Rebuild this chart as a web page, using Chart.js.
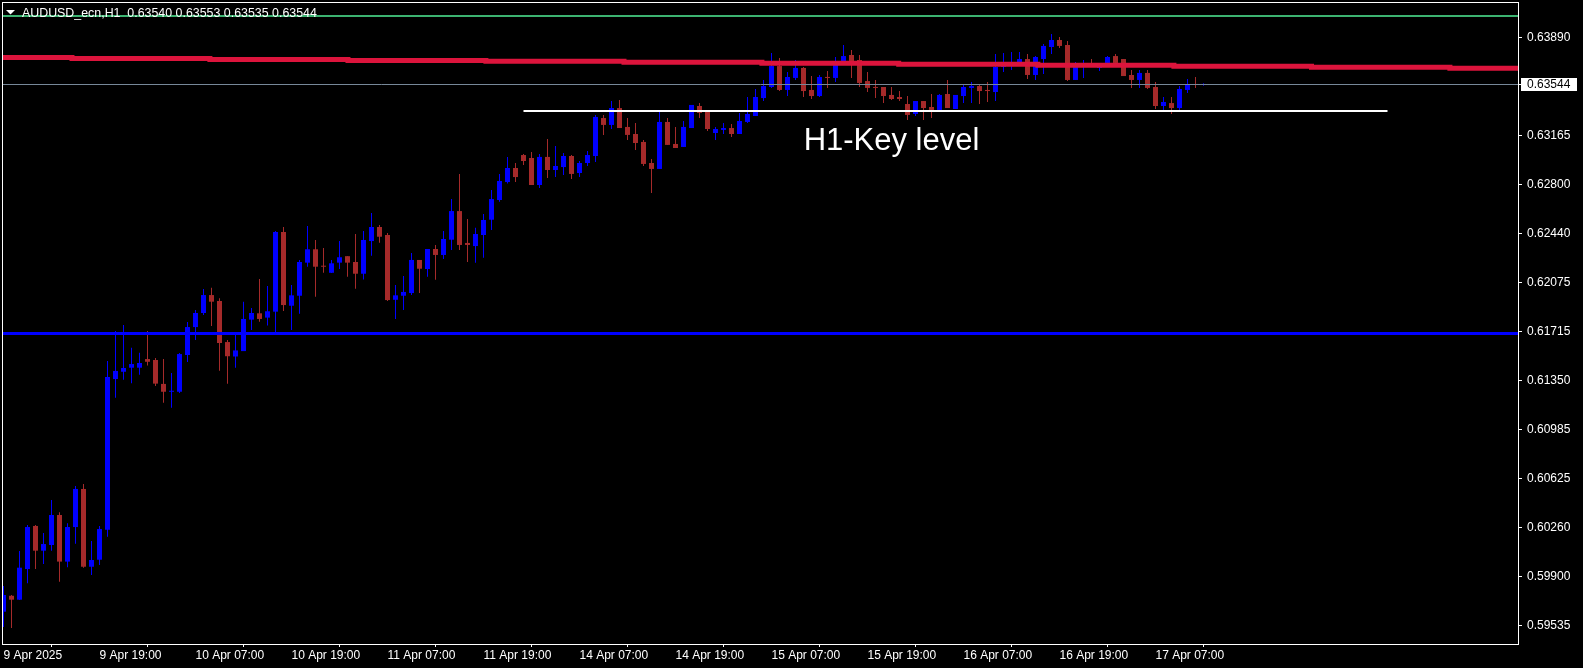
<!DOCTYPE html>
<html>
<head>
<meta charset="utf-8">
<script src="https://cdn.jsdelivr.net/npm/chart.js@4.4.1/dist/chart.umd.min.js"></script>
<style>
  html, body { margin: 0; padding: 0; background: #000; overflow: hidden; }
  #wrap { width: 1583px; height: 668px; }
</style>
</head>
<body>
<div id="wrap"><canvas id="chart" width="1583" height="668"></canvas></div>
<script>
// AUDUSD H1 - velas
const symbol = 'AUDUSD_ecn,H1';

const opens = [
  0.59639, 0.59757, 0.59728, 0.59955, 0.60274, 0.60091, 0.60133, 0.60355, 0.60010, 0.60266,
  0.60548, 0.59972, 0.60024, 0.60246, 0.61362, 0.61416, 0.61446, 0.61446, 0.61510, 0.61503,
  0.61326, 0.61268, 0.61268, 0.61540, 0.61747, 0.61851, 0.61984, 0.61940, 0.61636, 0.61529,
  0.61569, 0.61802, 0.61849, 0.61817, 0.61861, 0.62451, 0.61905, 0.61979, 0.62224, 0.62323,
  0.62201, 0.62149, 0.62224, 0.62272, 0.62229, 0.62142, 0.62384, 0.62488, 0.62429, 0.61949,
  0.61979, 0.61999, 0.62244, 0.62177, 0.62325, 0.62281, 0.62394, 0.62606, 0.62370, 0.62347,
  0.62429, 0.62542, 0.62688, 0.62821, 0.62925, 0.63021, 0.62999, 0.62799, 0.63007, 0.62910,
  0.62932, 0.63014, 0.62888, 0.62962, 0.63014, 0.63295, 0.63244, 0.63369, 0.63229, 0.63177,
  0.63118, 0.62962, 0.62918, 0.63266, 0.63103, 0.63081, 0.63221, 0.63384, 0.63340, 0.63184,
  0.63207, 0.63221, 0.63177, 0.63266, 0.63310, 0.63443, 0.63525, 0.63680, 0.63503, 0.63592,
  0.63666, 0.63503, 0.63458, 0.63599, 0.63592, 0.63688, 0.63762, 0.63725, 0.63569, 0.63525,
  0.63525, 0.63466, 0.63451, 0.63399, 0.63325, 0.63421, 0.63377, 0.63355, 0.63473, 0.63362,
  0.63458, 0.63518, 0.63532, 0.63503, 0.63488, 0.63673, 0.63680, 0.63703, 0.63732, 0.63614,
  0.63732, 0.63821, 0.63873, 0.63836, 0.63577, 0.63673, 0.63695, 0.63666, 0.63703, 0.63754,
  0.63732, 0.63614, 0.63577, 0.63629, 0.63525, 0.63384, 0.63406, 0.63369, 0.63503, 0.63547,
  0.63540
];
const highs = [
  0.59829, 0.59763, 0.60089, 0.60281, 0.60281, 0.60222, 0.60466, 0.60375, 0.60294, 0.60570,
  0.60585, 0.60163, 0.60274, 0.61496, 0.61718, 0.61762, 0.61594, 0.61557, 0.61718, 0.61518,
  0.61510, 0.61407, 0.61555, 0.61785, 0.61873, 0.62029, 0.62038, 0.61960, 0.61651, 0.61688,
  0.61935, 0.61888, 0.62103, 0.62051, 0.62458, 0.62488, 0.62058, 0.62244, 0.62495, 0.62392,
  0.62332, 0.62244, 0.62384, 0.62272, 0.62436, 0.62458, 0.62592, 0.62503, 0.62443, 0.62058,
  0.62125, 0.62295, 0.62244, 0.62325, 0.62355, 0.62458, 0.62695, 0.62881, 0.62547, 0.62482,
  0.62584, 0.62762, 0.62881, 0.63007, 0.62962, 0.63029, 0.63044, 0.63029, 0.63140, 0.63088,
  0.63036, 0.63021, 0.62977, 0.63051, 0.63318, 0.63318, 0.63421, 0.63429, 0.63295, 0.63258,
  0.63133, 0.62992, 0.63340, 0.63295, 0.63229, 0.63273, 0.63392, 0.63407, 0.63340, 0.63229,
  0.63258, 0.63251, 0.63333, 0.63451, 0.63510, 0.63577, 0.63777, 0.63740, 0.63636, 0.63725,
  0.63673, 0.63606, 0.63614, 0.63643, 0.63747, 0.63836, 0.63799, 0.63762, 0.63636, 0.63577,
  0.63525, 0.63525, 0.63495, 0.63458, 0.63421, 0.63421, 0.63473, 0.63473, 0.63577, 0.63466,
  0.63540, 0.63562, 0.63540, 0.63562, 0.63770, 0.63777, 0.63784, 0.63784, 0.63770, 0.63755,
  0.63843, 0.63917, 0.63895, 0.63866, 0.63710, 0.63725, 0.63732, 0.63703, 0.63755, 0.63770,
  0.63732, 0.63651, 0.63651, 0.63651, 0.63562, 0.63451, 0.63451, 0.63532, 0.63584, 0.63599,
  0.63553
];
const lows = [
  0.59526, 0.59518, 0.59726, 0.59849, 0.59955, 0.59992, 0.60091, 0.59861, 0.59968, 0.60143,
  0.59965, 0.59911, 0.59985, 0.60194, 0.61224, 0.61357, 0.61331, 0.61394, 0.61463, 0.61311,
  0.61187, 0.61150, 0.61258, 0.61488, 0.61651, 0.61836, 0.61755, 0.61423, 0.61328, 0.61446,
  0.61569, 0.61725, 0.61787, 0.61758, 0.61711, 0.61866, 0.61725, 0.61845, 0.62194, 0.61972,
  0.62149, 0.62147, 0.62177, 0.62119, 0.62031, 0.62099, 0.62275, 0.62372, 0.61940, 0.61807,
  0.61873, 0.61984, 0.61999, 0.62119, 0.62098, 0.62251, 0.62318, 0.62318, 0.62229, 0.62224,
  0.62260, 0.62466, 0.62675, 0.62811, 0.62821, 0.62947, 0.62799, 0.62777, 0.62851, 0.62858,
  0.62873, 0.62844, 0.62858, 0.62940, 0.62970, 0.63170, 0.63214, 0.63221, 0.63133, 0.63059,
  0.62940, 0.62740, 0.62918, 0.63096, 0.63073, 0.63081, 0.63221, 0.63295, 0.63199, 0.63133,
  0.63177, 0.63155, 0.63177, 0.63258, 0.63310, 0.63421, 0.63518, 0.63495, 0.63458, 0.63577,
  0.63451, 0.63436, 0.63451, 0.63518, 0.63562, 0.63688, 0.63592, 0.63525, 0.63488, 0.63443,
  0.63406, 0.63429, 0.63421, 0.63281, 0.63310, 0.63281, 0.63295, 0.63355, 0.63369, 0.63362,
  0.63406, 0.63406, 0.63399, 0.63414, 0.63421, 0.63636, 0.63651, 0.63680, 0.63584, 0.63577,
  0.63621, 0.63769, 0.63814, 0.63569, 0.63577, 0.63592, 0.63680, 0.63643, 0.63695, 0.63680,
  0.63606, 0.63518, 0.63518, 0.63510, 0.63362, 0.63355, 0.63325, 0.63355, 0.63481, 0.63518,
  0.63535
];
const closes = [
  0.59763, 0.59728, 0.59965, 0.60266, 0.60091, 0.60140, 0.60355, 0.60010, 0.60266, 0.60548,
  0.59972, 0.60022, 0.60251, 0.61377, 0.61422, 0.61444, 0.61473, 0.61481, 0.61490, 0.61328,
  0.61268, 0.61273, 0.61547, 0.61747, 0.61851, 0.61984, 0.61935, 0.61629, 0.61531, 0.61574,
  0.61807, 0.61851, 0.61807, 0.61864, 0.62451, 0.61910, 0.61982, 0.62229, 0.62323, 0.62194,
  0.62194, 0.62219, 0.62264, 0.62224, 0.62142, 0.62392, 0.62488, 0.62416, 0.61947, 0.61982,
  0.62007, 0.62244, 0.62179, 0.62325, 0.62281, 0.62399, 0.62606, 0.62355, 0.62355, 0.62436,
  0.62540, 0.62695, 0.62829, 0.62925, 0.62858, 0.62977, 0.62799, 0.63007, 0.62910, 0.62940,
  0.63014, 0.62881, 0.62962, 0.63021, 0.63303, 0.63244, 0.63369, 0.63221, 0.63170, 0.63110,
  0.62955, 0.62918, 0.63266, 0.63096, 0.63073, 0.63229, 0.63392, 0.63333, 0.63214, 0.63214,
  0.63221, 0.63177, 0.63273, 0.63325, 0.63451, 0.63532, 0.63680, 0.63503, 0.63599, 0.63666,
  0.63495, 0.63458, 0.63599, 0.63592, 0.63688, 0.63754, 0.63688, 0.63555, 0.63518, 0.63518,
  0.63458, 0.63436, 0.63436, 0.63318, 0.63421, 0.63369, 0.63355, 0.63466, 0.63369, 0.63466,
  0.63525, 0.63532, 0.63495, 0.63495, 0.63673, 0.63710, 0.63710, 0.63732, 0.63614, 0.63747,
  0.63829, 0.63873, 0.63829, 0.63577, 0.63673, 0.63695, 0.63680, 0.63695, 0.63747, 0.63703,
  0.63606, 0.63577, 0.63629, 0.63518, 0.63384, 0.63414, 0.63369, 0.63510, 0.63547, 0.63540,
  0.63544
];

// eje de tiempo: una etiqueta cada 12 velas
const xTickIdx = [0, 12, 24, 36, 48, 60, 72, 84, 96, 108, 120, 132, 144];
const xTickLabels = ['9 Apr 2025', '9 Apr 19:00', '10 Apr 07:00', '10 Apr 19:00', '11 Apr 07:00',
  '11 Apr 19:00', '14 Apr 07:00', '14 Apr 19:00', '15 Apr 07:00', '15 Apr 19:00',
  '16 Apr 07:00', '16 Apr 19:00', '17 Apr 07:00'];
const yTicks = [0.63890, 0.63165, 0.62800, 0.62440, 0.62075, 0.61715, 0.61350,
  0.60985, 0.60625, 0.60260, 0.59900, 0.59535];

// media movil (tramos escalonados)
const maStepIdx = [-0.19, 8.56, 25.8, 43.06, 60.3, 77.56, 94.8, 111.9, 129.3, 146.3, 163.5, 180.8, 189.44];
const maValues = [0.63743, 0.63736, 0.63729, 0.63721, 0.63715, 0.63708, 0.63700,
  0.63693, 0.63686, 0.63678, 0.63671, 0.63663, 0.63663];

// niveles horizontales
const greenLevel = 0.64051;
const blueLevel = 0.61704;
const keyLevel = 0.63347;
const keyFrom = 65, keyTo = 173;
const keyText = 'H1-Key level';
const keyTextAt = [111, 0.63058];

const yMin = 0.593998, yMax = 0.641544;
const xMin = -0.1875, xMax = 189.4375;

const BULL = '#0000ff';
const BEAR = 'rgb(165,42,42)';
const FONT = '"Liberation Sans", Arial, sans-serif';

const idx = opens.map((_, i) => i);
const candleColors = idx.map(i => closes[i] >= opens[i] ? BULL : BEAR);
const last = closes.length - 1;

function noPad(s) {
  s.paddingTop = 0;
  s.paddingBottom = 0;
  s.paddingLeft = 0;
  s.paddingRight = 0;
}

const overlayPlugin = {
  id: 'overlay',
  beforeDraw(chart) {
    const ctx = chart.ctx;
    ctx.save();
    ctx.fillStyle = '#000';
    ctx.fillRect(0, 0, chart.width, chart.height);
    ctx.restore();
  },
  afterDatasetsDraw(chart) {
    const { ctx, chartArea: a, scales: { x, y } } = chart;
    ctx.save();

    function hline(v, color, w, x0, x1) {
      const py = Math.round(y.getPixelForValue(v)) + (w % 2 ? 0.5 : 0);
      ctx.strokeStyle = color;
      ctx.lineWidth = w;
      ctx.beginPath();
      ctx.moveTo(x0, py);
      ctx.lineTo(x1, py);
      ctx.stroke();
    }

    ctx.beginPath();
    ctx.rect(a.left, a.top, a.right - a.left, a.bottom - a.top);
    ctx.clip();
    hline(greenLevel, '#3cb371', 2, a.left, a.right);
    hline(closes[last], '#778899', 1, a.left, a.right);
    hline(blueLevel, '#0000ff', 3, a.left, a.right);
    hline(keyLevel, '#ffffff', 2, x.getPixelForValue(keyFrom), x.getPixelForValue(keyTo));

    ctx.fillStyle = '#ffffff';
    ctx.font = '31px ' + FONT;
    ctx.textAlign = 'center';
    ctx.textBaseline = 'alphabetic';
    ctx.fillText(keyText, x.getPixelForValue(keyTextAt[0]), y.getPixelForValue(keyTextAt[1]));
    ctx.restore();

    ctx.save();
    // marco blanco
    ctx.strokeStyle = '#ffffff';
    ctx.lineWidth = 1;
    ctx.strokeRect(a.left + 0.5, a.top + 0.5, a.right - a.left - 1, a.bottom - a.top);

    // titulo
    ctx.fillStyle = '#ffffff';
    ctx.beginPath();
    ctx.moveTo(6, 10);
    ctx.lineTo(15, 10);
    ctx.lineTo(10.5, 14.5);
    ctx.closePath();
    ctx.fill();
    ctx.font = '12.4px ' + FONT;
    ctx.textAlign = 'left';
    ctx.textBaseline = 'alphabetic';
    const f = v => v.toFixed(5);
    ctx.fillText(symbol + '  ' + f(opens[last]) + ' ' + f(highs[last]) + ' ' + f(lows[last]) + ' ' + f(closes[last]), 22, 16.5);

    // etiqueta de precio actual
    const py = y.getPixelForValue(closes[last]);
    ctx.fillStyle = '#ffffff';
    ctx.fillRect(a.right + 2, Math.round(py) - 6, 56, 13);
    ctx.beginPath();
    ctx.moveTo(a.right, Math.round(py) + 0.5);
    ctx.lineTo(a.right + 3, Math.round(py) + 0.5);
    ctx.stroke();
    ctx.fillStyle = '#000000';
    ctx.font = '12px ' + FONT;
    ctx.textBaseline = 'middle';
    ctx.fillText(f(closes[last]), a.right + 8, Math.round(py) + 1);
    ctx.restore();
  }
};

new Chart(document.getElementById('chart'), {
  type: 'bar',
  data: {
    datasets: [
      {
        label: 'wicks',
        data: idx.map(i => ({ x: i, y: [lows[i], highs[i]] })),
        backgroundColor: candleColors,
        barThickness: 1,
        grouped: false,
        inflateAmount: 0,
        borderWidth: 0,
        order: 3
      },
      {
        label: 'bodies',
        data: idx.map(i => ({ x: i, y: [opens[i], closes[i]] })),
        backgroundColor: candleColors,
        barThickness: 5,
        minBarLength: 1,
        grouped: false,
        inflateAmount: 0,
        borderWidth: 0,
        order: 2
      },
      {
        type: 'line',
        label: 'MA',
        data: maStepIdx.map((v, k) => ({ x: v, y: maValues[k] })),
        stepped: true,
        borderColor: '#dc143c',
        borderWidth: 5,
        pointRadius: 0,
        fill: false,
        order: 1
      }
    ]
  },
  options: {
    responsive: false,
    animation: false,
    devicePixelRatio: 1,
    layout: { padding: { left: 2, top: 2, right: 0, bottom: 0 } },
    plugins: { legend: { display: false }, tooltip: { enabled: false } },
    scales: {
      x: {
        type: 'linear',
        min: xMin,
        max: xMax,
        offset: false,
        afterBuildTicks: s => { s.ticks = xTickIdx.map(v => ({ value: v })); },
        afterFit: s => { s.height = 24; noPad(s); },
        grid: { drawOnChartArea: false, color: '#ffffff', tickLength: 3 },
        border: { display: false },
        ticks: {
          autoSkip: false,
          maxRotation: 0,
          align: 'start',
          padding: 1,
          color: '#ffffff',
          font: { family: FONT, size: 12 },
          callback: v => xTickLabels[xTickIdx.indexOf(v)]
        }
      },
      y: {
        position: 'right',
        min: yMin,
        max: yMax,
        bounds: 'data',
        afterBuildTicks: s => { s.ticks = yTicks.map(v => ({ value: v })); },
        afterFit: s => { s.width = 64; noPad(s); },
        grid: { drawOnChartArea: false, color: '#ffffff', tickLength: 3 },
        border: { display: false },
        ticks: {
          padding: 5,
          color: '#ffffff',
          font: { family: FONT, size: 12 },
          callback: v => v.toFixed(5)
        }
      }
    }
  },
  plugins: [overlayPlugin]
});
</script>
</body>
</html>
